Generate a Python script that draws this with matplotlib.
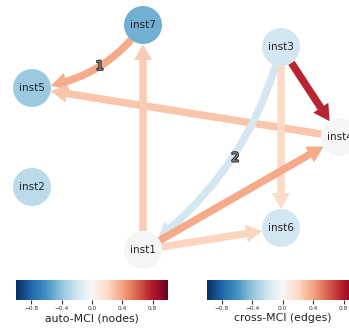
import matplotlib

matplotlib.use("Agg")
import matplotlib.pyplot as plt
import matplotlib.patheffects as pe
from matplotlib.cm import ScalarMappable
from matplotlib.colors import Normalize
from matplotlib.patches import Circle, FancyArrowPatch

W, H = 349, 328

# auto-MCI value per node
node_names = ["inst1", "inst2", "inst3", "inst4", "inst5", "inst6", "inst7"]
node_mci = [-0.02, -0.27, -0.18, 0.0, -0.37, -0.18, -0.48]

# cross-MCI links: source -> target, value, lag label
edge_src = ["inst7", "inst4", "inst1", "inst3", "inst3", "inst3", "inst1", "inst1"]
edge_dst = ["inst5", "inst5", "inst7", "inst4", "inst1", "inst6", "inst4", "inst6"]
edge_mci = [0.38, 0.28, 0.25, 0.76, -0.18, 0.20, 0.38, 0.22]
edge_lag = ["1", "", "", "", "2", "", "", ""]

cbar_ticks = [-0.8, -0.4, 0.0, 0.4, 0.8]

# layout in pixel coordinates (y grows downward)
pos = {
    "inst1": (143, 250),
    "inst2": (32, 187),
    "inst3": (281, 47),
    "inst4": (340, 137),
    "inst5": (32, 88),
    "inst6": (281, 228),
    "inst7": (143, 25),
}
curvature = {("inst7", "inst5"): -0.23, ("inst3", "inst1"): -0.18}
NODE_R = 19

cmap = plt.get_cmap("RdBu_r")
norm = Normalize(vmin=-1, vmax=1)

fig = plt.figure(figsize=(W / 100, H / 100), dpi=100)
ax = fig.add_axes([0, 0, 1, 1])
ax.set_xlim(0, W)
ax.set_ylim(H, 0)
ax.set_axis_off()

px = 72 / fig.dpi  # points per pixel
style = "simple,head_length={:.2f},head_width={:.2f},tail_width={:.2f}".format(
    16 * px, 18 * px, 7.5 * px
)

for src, dst, val, lag in zip(edge_src, edge_dst, edge_mci, edge_lag):
    (x1, y1), (x2, y2) = pos[src], pos[dst]
    rad = curvature.get((src, dst), 0.0)
    arrow = FancyArrowPatch(
        (x1, y1),
        (x2, y2),
        arrowstyle=style,
        connectionstyle=f"arc3,rad={rad}",
        shrinkA=NODE_R * px,
        shrinkB=NODE_R * px,
        mutation_scale=1,
        facecolor=cmap(norm(val)),
        edgecolor="none",
        lw=0,
        zorder=1,
    )
    ax.add_patch(arrow)
    if lag:
        # midpoint of the arc3 bezier (axis is y-down)
        mx, my = (x1 + x2) / 2, (y1 + y2) / 2
        lx = mx - 0.5 * rad * (y2 - y1)
        ly = my + 0.5 * rad * (x2 - x1)
        ax.text(
            lx + 5, ly - 3, lag,
            ha="center", va="center", fontsize=9, color="0.6", zorder=4,
            path_effects=[pe.withStroke(linewidth=1.5, foreground="0.15")],
        )

for name, val in zip(node_names, node_mci):
    x, y = pos[name]
    ax.add_patch(Circle((x, y), NODE_R, facecolor=cmap(norm(val)),
                        edgecolor="none", zorder=3))
    ax.text(x, y, name, ha="center", va="center", fontsize=7.5,
            color="#222222", zorder=5)

sm = ScalarMappable(norm=norm, cmap=cmap)
for left, label in [(16, "auto-MCI (nodes)"), (206.7, "cross-MCI (edges)")]:
    cax = fig.add_axes([left / W, 28 / H, 152 / W, 20 / H])
    cb = fig.colorbar(sm, cax=cax, orientation="horizontal", ticks=cbar_ticks)
    cb.outline.set_visible(False)
    cb.ax.tick_params(labelsize=4.2, length=3, width=0.8, pad=1.5, colors="#333333")
    cb.set_label(label, fontsize=7.8, labelpad=1.5, color="#222222")

fig.savefig("out.png", dpi=100)
